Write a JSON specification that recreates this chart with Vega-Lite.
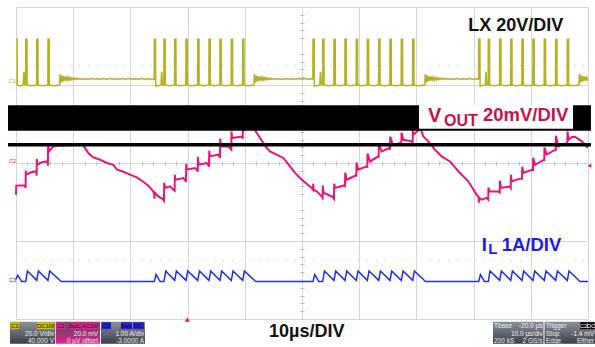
{
"$schema": "https://vega.github.io/schema/vega-lite/v6.json",
"width": 572, "height": 312,
"autosize": {"type": "none"},
"padding": {"left": 16, "top": 7, "right": 7, "bottom": 28},
"background": "#ffffff",
"config": {"view": {"stroke": null}, "axis": {"labels": false, "ticks": false, "domain": false, "grid": false, "gridColor": "#d6d6d6", "tickColor": "#bdbdbd"}},
"datasets": {
"lx": [
{"t":0,"v":23.5},{"t":0.2,"v":23.5},{"t":0.22,"v":0},{"t":0.7,"v":-0.5},{"t":1.25,"v":0},{"t":1.38,"v":6.6},{"t":1.5,"v":1},{"t":1.6,"v":0},
{"t":1.68,"v":0},{"t":1.7,"v":23.5},{"t":1.92,"v":23.5},{"t":1.94,"v":0},{"t":2.8,"v":-0.4},
{"t":3.6,"v":0},{"t":3.62,"v":23.5},{"t":3.84,"v":23.5},{"t":3.86,"v":0},{"t":4.7,"v":-0.4},
{"t":5.57,"v":0},{"t":5.59,"v":23.5},{"t":5.81,"v":23.5},{"t":5.83,"v":0},{"t":6.7,"v":-0.4},{"t":7.62,"v":0},
{"t":7.69,"v":5.6},{"t":7.84,"v":1.2},{"t":7.99,"v":5.0},{"t":8.14,"v":1.7},{"t":8.29,"v":4.6},{"t":8.44,"v":2.1},{"t":8.59,"v":4.3},{"t":8.74,"v":2.3},{"t":8.89,"v":4.0},{"t":9.04,"v":2.5},{"t":9.19,"v":3.8},{"t":9.34,"v":2.6},{"t":9.49,"v":3.7},{"t":9.64,"v":2.7},{"t":9.79,"v":3.6},{"t":9.94,"v":2.8},{"t":10.09,"v":3.5},{"t":10.24,"v":2.9},{"t":10.39,"v":3.4},{"t":10.54,"v":2.9},{"t":10.69,"v":3.4},{"t":10.84,"v":3.0},{"t":11.04,"v":3.3},{"t":11.24,"v":2.9},{"t":11.44,"v":3.3},{"t":11.64,"v":3.0},{"t":11.94,"v":3.3},{"t":12.24,"v":3.0},
{"t":12.7,"v":2.9},{"t":13.2,"v":3.3},{"t":13.7,"v":2.9},{"t":14.2,"v":3.2},{"t":14.8,"v":2.9},{"t":15.3,"v":3.3},{"t":15.9,"v":3.0},{"t":16.4,"v":3.3},{"t":17.0,"v":2.9},{"t":17.5,"v":3.2},{"t":18.1,"v":2.9},{"t":18.7,"v":3.3},{"t":19.2,"v":3.0},{"t":19.8,"v":3.3},{"t":20.3,"v":2.9},{"t":20.9,"v":3.2},{"t":21.4,"v":3.0},{"t":22.0,"v":3.3},{"t":22.5,"v":2.9},{"t":23.1,"v":3.2},{"t":23.6,"v":3.0},{"t":24.16,"v":3.1},
{"t":24.18,"v":23.5},{"t":24.4,"v":23.5},{"t":24.42,"v":-0.6},{"t":24.9,"v":-0.3},{"t":25.35,"v":0},{"t":25.47,"v":6.8},{"t":25.58,"v":1.0},{"t":25.68,"v":0},
{"t":25.85,"v":0},{"t":25.87,"v":23.5},{"t":26.09,"v":23.5},{"t":26.11,"v":0},{"t":26.8,"v":-0.4},
{"t":27.72,"v":0},{"t":27.74,"v":23.5},{"t":27.96,"v":23.5},{"t":27.98,"v":0},{"t":28.7,"v":-0.4},
{"t":29.7,"v":0},{"t":29.72,"v":23.5},{"t":29.94,"v":23.5},{"t":29.96,"v":0},{"t":30.7,"v":-0.4},
{"t":31.75,"v":0},{"t":31.77,"v":23.5},{"t":31.99,"v":23.5},{"t":32.01,"v":0},{"t":32.7,"v":-0.4},
{"t":33.72,"v":0},{"t":33.74,"v":23.5},{"t":33.96,"v":23.5},{"t":33.98,"v":0},{"t":34.7,"v":-0.4},
{"t":35.64,"v":0},{"t":35.66,"v":23.5},{"t":35.88,"v":23.5},{"t":35.9,"v":0},{"t":36.6,"v":-0.4},
{"t":37.62,"v":0},{"t":37.64,"v":23.5},{"t":37.86,"v":23.5},{"t":37.88,"v":0},{"t":38.6,"v":-0.4},
{"t":39.61,"v":0},{"t":39.63,"v":23.5},{"t":39.85,"v":23.5},{"t":39.87,"v":0},{"t":40.6,"v":-0.4},{"t":41.59,"v":0},
{"t":41.66,"v":5.6},{"t":41.81,"v":1.2},{"t":41.96,"v":5.0},{"t":42.11,"v":1.7},{"t":42.26,"v":4.6},{"t":42.41,"v":2.1},{"t":42.56,"v":4.3},{"t":42.71,"v":2.3},{"t":42.86,"v":4.0},{"t":43.01,"v":2.5},{"t":43.16,"v":3.8},{"t":43.31,"v":2.6},{"t":43.46,"v":3.7},{"t":43.61,"v":2.7},{"t":43.76,"v":3.6},{"t":43.91,"v":2.8},{"t":44.06,"v":3.5},{"t":44.21,"v":2.9},{"t":44.36,"v":3.4},{"t":44.51,"v":2.9},{"t":44.66,"v":3.4},{"t":44.81,"v":3.0},{"t":45.01,"v":3.3},{"t":45.21,"v":2.9},{"t":45.41,"v":3.3},{"t":45.61,"v":3.0},{"t":45.91,"v":3.3},{"t":46.21,"v":3.0},
{"t":46.7,"v":2.9},{"t":47.2,"v":3.3},{"t":47.8,"v":2.9},{"t":48.3,"v":3.2},{"t":48.9,"v":2.9},{"t":49.4,"v":3.3},{"t":50.0,"v":3.0},{"t":50.5,"v":3.3},{"t":51.0,"v":2.9},{"t":51.5,"v":3.2},{"t":51.9,"v":3.1},
{"t":51.92,"v":23.5},{"t":52.14,"v":23.5},{"t":52.16,"v":-0.6},{"t":52.7,"v":-0.3},{"t":53.11,"v":0},{"t":53.23,"v":6.8},{"t":53.34,"v":1.0},{"t":53.44,"v":0},
{"t":53.6,"v":0},{"t":53.62,"v":23.5},{"t":53.84,"v":23.5},{"t":53.86,"v":0},{"t":54.6,"v":-0.4},
{"t":55.57,"v":0},{"t":55.59,"v":23.5},{"t":55.81,"v":23.5},{"t":55.83,"v":0},{"t":56.5,"v":-0.4},
{"t":57.5,"v":0},{"t":57.52,"v":23.5},{"t":57.74,"v":23.5},{"t":57.76,"v":0},{"t":58.5,"v":-0.4},
{"t":59.47,"v":0},{"t":59.49,"v":23.5},{"t":59.71,"v":23.5},{"t":59.73,"v":0},{"t":60.4,"v":-0.4},
{"t":61.4,"v":0},{"t":61.42,"v":23.5},{"t":61.64,"v":23.5},{"t":61.66,"v":0},{"t":62.4,"v":-0.4},
{"t":63.39,"v":0},{"t":63.41,"v":23.5},{"t":63.63,"v":23.5},{"t":63.65,"v":0},{"t":64.4,"v":-0.4},
{"t":65.36,"v":0},{"t":65.38,"v":23.5},{"t":65.6,"v":23.5},{"t":65.62,"v":0},{"t":66.4,"v":-0.4},
{"t":67.34,"v":0},{"t":67.36,"v":23.5},{"t":67.58,"v":23.5},{"t":67.6,"v":0},{"t":68.4,"v":-0.4},
{"t":69.33,"v":0},{"t":69.35,"v":23.5},{"t":69.57,"v":23.5},{"t":69.59,"v":0},{"t":70.4,"v":-0.4},{"t":71.48,"v":0},
{"t":71.55,"v":5.6},{"t":71.7,"v":1.2},{"t":71.85,"v":5.0},{"t":72.0,"v":1.7},{"t":72.15,"v":4.6},{"t":72.3,"v":2.1},{"t":72.45,"v":4.3},{"t":72.6,"v":2.3},{"t":72.75,"v":4.0},{"t":72.9,"v":2.5},{"t":73.05,"v":3.8},{"t":73.2,"v":2.6},{"t":73.35,"v":3.7},{"t":73.5,"v":2.7},{"t":73.65,"v":3.6},{"t":73.8,"v":2.8},{"t":73.95,"v":3.5},{"t":74.1,"v":2.9},{"t":74.25,"v":3.4},{"t":74.4,"v":2.9},{"t":74.55,"v":3.4},{"t":74.7,"v":3.0},{"t":74.9,"v":3.3},{"t":75.1,"v":2.9},{"t":75.3,"v":3.3},{"t":75.5,"v":3.0},{"t":75.8,"v":3.3},{"t":76.1,"v":3.0},
{"t":76.6,"v":2.9},{"t":77.1,"v":3.3},{"t":77.7,"v":2.9},{"t":78.2,"v":3.2},{"t":78.8,"v":2.9},{"t":79.3,"v":3.3},{"t":79.9,"v":3.0},{"t":80.4,"v":3.2},{"t":80.87,"v":3.1},
{"t":80.89,"v":23.5},{"t":81.11,"v":23.5},{"t":81.13,"v":-0.6},{"t":81.6,"v":-0.3},{"t":82.05,"v":0},{"t":82.17,"v":6.8},{"t":82.28,"v":1.0},{"t":82.38,"v":0},
{"t":82.55,"v":0},{"t":82.57,"v":23.5},{"t":82.79,"v":23.5},{"t":82.81,"v":0},{"t":83.5,"v":-0.4},
{"t":84.54,"v":0},{"t":84.56,"v":23.5},{"t":84.78,"v":23.5},{"t":84.8,"v":0},{"t":85.5,"v":-0.4},
{"t":86.47,"v":0},{"t":86.49,"v":23.5},{"t":86.71,"v":23.5},{"t":86.73,"v":0},{"t":87.5,"v":-0.4},
{"t":88.44,"v":0},{"t":88.46,"v":23.5},{"t":88.68,"v":23.5},{"t":88.7,"v":0},{"t":89.4,"v":-0.4},
{"t":90.36,"v":0},{"t":90.38,"v":23.5},{"t":90.6,"v":23.5},{"t":90.62,"v":0},{"t":91.4,"v":-0.4},
{"t":92.34,"v":0},{"t":92.36,"v":23.5},{"t":92.58,"v":23.5},{"t":92.6,"v":0},{"t":93.4,"v":-0.4},
{"t":94.33,"v":0},{"t":94.35,"v":23.5},{"t":94.57,"v":23.5},{"t":94.59,"v":0},{"t":95.4,"v":-0.4},
{"t":96.36,"v":0},{"t":96.38,"v":23.5},{"t":96.6,"v":23.5},{"t":96.62,"v":0},{"t":97.4,"v":-0.4},{"t":98.41,"v":0},
{"t":98.48,"v":5.6},{"t":98.63,"v":1.2},{"t":98.78,"v":5.0},{"t":98.93,"v":1.7},{"t":99.08,"v":4.6},{"t":99.23,"v":2.1},{"t":99.38,"v":4.3},{"t":99.53,"v":2.3},{"t":99.68,"v":4.0},{"t":99.83,"v":2.5},{"t":100,"v":3.8}
],
"vout": [
{"t":0.0,"v":-16.3},{"t":0.05,"v":-11.6},{"t":1.49,"v":-11.4},{"t":1.68,"v":-12.7},{"t":1.71,"v":-3.9},{"t":1.78,"v":-6.0},{"t":2.45,"v":-5.0},{"t":3.23,"v":-4.3},{"t":3.57,"v":-5.0},{"t":3.6,"v":-6.5},{"t":3.64,"v":2.2},{"t":3.72,"v":-0.9},{"t":4.55,"v":0.4},{"t":5.24,"v":0.8},{"t":5.54,"v":0.2},{"t":5.58,"v":-1.4},{"t":5.61,"v":8.9},{"t":5.77,"v":5.9},{"t":6.52,"v":8.5},{"t":7.4,"v":9.0},{"t":8.57,"v":9.0},{"t":9.74,"v":9.1},{"t":10.89,"v":9.7},{"t":11.77,"v":9.0},{"t":12.64,"v":5.1},{"t":13.46,"v":3.0},{"t":14.69,"v":1.7},{"t":15.86,"v":0.0},{"t":17.01,"v":-0.9},{"t":17.66,"v":-3.4},{"t":18.76,"v":-4.5},{"t":19.93,"v":-6.0},{"t":21.1,"v":-7.4},{"t":22.26,"v":-9.6},{"t":23.13,"v":-11.6},{"t":23.78,"v":-13.7},{"t":24.16,"v":-15.7},{"t":24.2,"v":-18.3},{"t":24.27,"v":-15.2},{"t":24.88,"v":-17.1},{"t":25.44,"v":-18.1},{"t":25.75,"v":-18.8},{"t":25.87,"v":-19.3},{"t":25.91,"v":-10.1},{"t":26.05,"v":-12.8},{"t":26.92,"v":-12.0},{"t":27.5,"v":-13.7},{"t":27.73,"v":-14.2},{"t":27.76,"v":-6.0},{"t":27.85,"v":-8.6},{"t":29.25,"v":-7.7},{"t":29.63,"v":-9.1},{"t":29.72,"v":-9.6},{"t":29.76,"v":-0.4},{"t":29.86,"v":-3.4},{"t":31.29,"v":-2.6},{"t":31.7,"v":-3.9},{"t":31.77,"v":-4.5},{"t":31.8,"v":3.2},{"t":31.91,"v":-0.9},{"t":33.34,"v":0.0},{"t":33.69,"v":-1.4},{"t":33.74,"v":-1.9},{"t":33.78,"v":6.3},{"t":33.88,"v":3.4},{"t":35.37,"v":4.3},{"t":35.61,"v":3.0},{"t":35.66,"v":2.7},{"t":35.7,"v":12.5},{"t":35.84,"v":8.5},{"t":37.12,"v":8.5},{"t":37.55,"v":7.1},{"t":37.64,"v":6.8},{"t":37.67,"v":16.1},{"t":37.81,"v":12.8},{"t":39.46,"v":13.6},{"t":39.58,"v":13.0},{"t":39.63,"v":12.5},{"t":39.67,"v":20.2},{"t":39.77,"v":16.2},{"t":40.03,"v":18.4},{"t":40.91,"v":20.2},{"t":41.78,"v":16.8},{"t":42.66,"v":12.8},{"t":43.83,"v":7.7},{"t":44.41,"v":5.9},{"t":45.58,"v":4.3},{"t":46.73,"v":2.6},{"t":47.9,"v":-1.7},{"t":48.78,"v":-5.1},{"t":49.95,"v":-8.6},{"t":50.82,"v":-10.6},{"t":51.7,"v":-12.8},{"t":51.92,"v":-13.7},{"t":51.96,"v":-10.6},{"t":52.03,"v":-13.7},{"t":52.62,"v":-14.7},{"t":53.44,"v":-17.1},{"t":53.6,"v":-17.8},{"t":53.64,"v":-11.6},{"t":53.76,"v":-15.4},{"t":54.55,"v":-16.3},{"t":55.42,"v":-17.5},{"t":55.59,"v":-18.3},{"t":55.63,"v":-10.6},{"t":55.77,"v":-12.8},{"t":57.43,"v":-11.4},{"t":57.52,"v":-12.3},{"t":57.55,"v":-5.0},{"t":57.81,"v":-8.6},{"t":59.44,"v":-6.3},{"t":59.49,"v":-7.0},{"t":59.53,"v":0.2},{"t":59.84,"v":-3.4},{"t":61.36,"v":-1.7},{"t":61.42,"v":-2.4},{"t":61.45,"v":4.8},{"t":61.89,"v":0.8},{"t":63.34,"v":3.4},{"t":63.41,"v":2.7},{"t":63.44,"v":9.9},{"t":63.93,"v":5.9},{"t":65.33,"v":7.7},{"t":65.38,"v":6.8},{"t":65.42,"v":13.5},{"t":65.86,"v":9.4},{"t":67.31,"v":10.3},{"t":67.36,"v":9.4},{"t":67.4,"v":15.5},{"t":67.71,"v":11.9},{"t":69.18,"v":11.1},{"t":69.35,"v":10.4},{"t":69.39,"v":18.1},{"t":69.46,"v":14.5},{"t":70.33,"v":16.7},{"t":70.72,"v":17.8},{"t":71.21,"v":13.6},{"t":72.08,"v":11.1},{"t":73.25,"v":6.8},{"t":74.42,"v":3.4},{"t":75.87,"v":0.8},{"t":77.33,"v":-4.3},{"t":79.07,"v":-9.4},{"t":80.54,"v":-16.3},{"t":80.87,"v":-17.3},{"t":80.91,"v":-20.4},{"t":80.99,"v":-17.8},{"t":81.4,"v":-18.8},{"t":82.28,"v":-17.9},{"t":82.57,"v":-18.8},{"t":82.6,"v":-12.6},{"t":82.78,"v":-14.5},{"t":84.27,"v":-14.6},{"t":84.56,"v":-15.2},{"t":84.6,"v":-9.0},{"t":84.76,"v":-12.8},{"t":86.36,"v":-12.0},{"t":86.49,"v":-12.7},{"t":86.52,"v":-6.0},{"t":86.66,"v":-9.4},{"t":88.41,"v":-7.7},{"t":88.46,"v":-8.6},{"t":88.5,"v":-1.9},{"t":88.69,"v":-5.1},{"t":90.33,"v":-3.4},{"t":90.38,"v":-4.2},{"t":90.42,"v":2.7},{"t":90.73,"v":-0.9},{"t":92.31,"v":1.7},{"t":92.36,"v":0.9},{"t":92.39,"v":7.9},{"t":92.78,"v":4.3},{"t":94.3,"v":6.8},{"t":94.35,"v":6.1},{"t":94.39,"v":14.0},{"t":94.81,"v":8.5},{"t":96.33,"v":10.3},{"t":96.38,"v":9.4},{"t":96.42,"v":16.1},{"t":96.59,"v":11.9},{"t":97.2,"v":13.3},{"t":97.73,"v":13.5},{"t":98.9,"v":11.1},{"t":99.77,"v":8.5},{"t":100.0,"v":7.8}
],
"il": [
{"t":0,"v":0.02},{"t":0.3,"v":0.12},{"t":1.0,"v":-0.04},{"t":1.7,"v":-0.04},{"t":2.0,"v":0.23},{"t":3.62,"v":-0.01},{"t":3.92,"v":0.23},{"t":5.59,"v":-0.01},{"t":5.89,"v":0.23},{"t":7.9,"v":-0.04},
{"t":24.18,"v":-0.04},{"t":24.48,"v":0.14},{"t":25.2,"v":-0.04},{"t":25.87,"v":-0.04},{"t":26.17,"v":0.23},{"t":27.74,"v":-0.01},{"t":28.04,"v":0.23},{"t":29.72,"v":-0.01},{"t":30.02,"v":0.23},{"t":31.77,"v":-0.01},{"t":32.07,"v":0.23},{"t":33.74,"v":-0.01},{"t":34.04,"v":0.23},{"t":35.66,"v":-0.01},{"t":35.96,"v":0.23},{"t":37.64,"v":-0.01},{"t":37.94,"v":0.23},{"t":39.63,"v":-0.01},{"t":39.93,"v":0.23},{"t":41.9,"v":-0.04},
{"t":51.92,"v":-0.04},{"t":52.22,"v":0.14},{"t":52.95,"v":-0.04},{"t":53.62,"v":-0.04},{"t":53.92,"v":0.23},{"t":55.59,"v":-0.01},{"t":55.89,"v":0.23},{"t":57.52,"v":-0.01},{"t":57.82,"v":0.23},{"t":59.49,"v":-0.01},{"t":59.79,"v":0.23},{"t":61.42,"v":-0.01},{"t":61.72,"v":0.23},{"t":63.41,"v":-0.01},{"t":63.71,"v":0.23},{"t":65.38,"v":-0.01},{"t":65.68,"v":0.23},{"t":67.36,"v":-0.01},{"t":67.66,"v":0.23},{"t":69.35,"v":-0.01},{"t":69.65,"v":0.23},{"t":71.6,"v":-0.04},
{"t":80.89,"v":-0.04},{"t":81.19,"v":0.14},{"t":81.9,"v":-0.04},{"t":82.57,"v":-0.04},{"t":82.87,"v":0.23},{"t":84.56,"v":-0.01},{"t":84.86,"v":0.23},{"t":86.49,"v":-0.01},{"t":86.79,"v":0.23},{"t":88.46,"v":-0.01},{"t":88.76,"v":0.23},{"t":90.38,"v":-0.01},{"t":90.68,"v":0.23},{"t":92.36,"v":-0.01},{"t":92.66,"v":0.23},{"t":94.35,"v":-0.01},{"t":94.65,"v":0.23},{"t":96.38,"v":-0.01},{"t":96.68,"v":0.23},{"t":98.6,"v":-0.04},{"t":100,"v":-0.04}
]
},
"resolve": {"scale": {"y": "independent"}, "axis": {"x": "independent"}},
"layer": [
{
"data": {"name": "lx"},
"mark": {"type": "line", "color": "#b8b024", "strokeWidth": 1.5},
"encoding": {
"x": {"field": "t", "type": "quantitative", "scale": {"domain": [0, 100], "nice": false}, "axis": {"title": null, "orient": "bottom", "offset": -158, "ticks": true, "tickSize": 4, "values": [2,4,6,8,12,14,16,18,22,24,26,28,32,34,36,38,42,44,46,48,52,54,56,58,62,64,66,68,72,74,76,78,82,84,86,88,92,94,96,98]}},
"y": {"field": "v", "type": "quantitative", "scale": {"domain": [-120, 40], "nice": false}, "axis": {"title": null, "orient": "left", "offset": -288, "ticks": true, "tickSize": 4, "values": [-116,-112,-108,-104,-96,-92,-88,-84,-76,-72,-68,-64,-56,-52,-48,-44,-36,-32,-28,-24,-16,-12,-8,-4,4,8,12,16,24,28,32,36]}}
}
},
{
"data": {"name": "il"},
"mark": {"type": "line", "color": "#2230e0", "strokeWidth": 1.5},
"encoding": {
"x": {"field": "t", "type": "quantitative", "scale": {"domain": [0, 100], "nice": false}, "axis": null},
"y": {"field": "v", "type": "quantitative", "scale": {"domain": [-1, 7], "nice": false}, "axis": null}
}
},
{
"data": {"values": [{}]},
"layer": [
{"mark": {"type": "rule", "color": "#c8c8c8", "strokeDash": [1, 8]}, "encoding": {"x": {"datum": 0, "type": "quantitative", "title": null}, "x2": {"datum": 100}, "y": {"datum": 50, "type": "quantitative", "title": null}}},
{"mark": {"type": "rule", "color": "#c8c8c8", "strokeDash": [1, 8]}, "encoding": {"x": {"datum": 0, "type": "quantitative", "title": null}, "x2": {"datum": 100}, "y": {"datum": -50, "type": "quantitative", "title": null}}},
{
"data": {"name": "vout"},
"mark": {"type": "line", "color": "#e8147c", "strokeWidth": 2},
"encoding": {
"x": {"field": "t", "type": "quantitative", "scale": {"domain": [0, 100], "nice": false}, "axis": {"title": null, "grid": true, "values": [0,10,20,30,40,50,60,70,80,90,100]}},
"y": {"field": "v", "type": "quantitative", "scale": {"domain": [-80, 80], "nice": false}, "axis": {"title": null, "grid": true, "values": [-80,-60,-40,-20,0,20,40,60,80]}}
}
},
{"mark": {"type": "rect", "color": "#000000"}, "encoding": {"x": {"datum": -1.4, "type": "quantitative", "title": null}, "x2": {"datum": 100.52}, "y": {"datum": 29.6, "type": "quantitative", "title": null}, "y2": {"datum": 16.6}}},
{"mark": {"type": "rule", "color": "#000000", "strokeWidth": 3.5}, "encoding": {"x": {"datum": -1.4, "type": "quantitative", "title": null}, "x2": {"datum": 100.52}, "y": {"datum": 9.38, "type": "quantitative", "title": null}}},
{"mark": {"type": "rect", "color": "#ffffff"}, "encoding": {"x": {"datum": 70.45, "type": "quantitative", "title": null}, "x2": {"datum": 97.38}, "y": {"datum": 29.9, "type": "quantitative", "title": null}, "y2": {"datum": 17.6}}},
{"mark": {"type": "text", "text": "LX 20V/DIV", "font": "Liberation Sans", "fontWeight": "bold", "fontSize": 18, "align": "left", "baseline": "alphabetic", "color": "#111111"}, "encoding": {"x": {"datum": 79.07, "type": "quantitative", "title": null}, "y": {"datum": 67.49, "type": "quantitative", "title": null}}},
{"mark": {"type": "text", "text": "V", "font": "Liberation Sans", "fontWeight": "bold", "fontSize": 20, "align": "left", "baseline": "alphabetic", "color": "#c8124c"}, "encoding": {"x": {"datum": 72.03, "type": "quantitative", "title": null}, "y": {"datum": 20.82, "type": "quantitative", "title": null}}},
{"mark": {"type": "text", "text": "OUT", "font": "Liberation Sans", "fontWeight": "bold", "fontSize": 16, "align": "left", "baseline": "alphabetic", "color": "#c8124c"}, "encoding": {"x": {"datum": 74.83, "type": "quantitative", "title": null}, "y": {"datum": 18.77, "type": "quantitative", "title": null}}},
{"mark": {"type": "text", "text": "20mV/DIV", "font": "Liberation Sans", "fontWeight": "bold", "fontSize": 18.5, "align": "left", "baseline": "alphabetic", "color": "#c8124c"}, "encoding": {"x": {"datum": 81.64, "type": "quantitative", "title": null}, "y": {"datum": 21.33, "type": "quantitative", "title": null}}},
{"mark": {"type": "text", "text": "I", "font": "Liberation Sans", "fontWeight": "bold", "fontSize": 18.5, "align": "left", "baseline": "alphabetic", "color": "#1c1ce6"}, "encoding": {"x": {"datum": 81.41, "type": "quantitative", "title": null}, "y": {"datum": -45.33, "type": "quantitative", "title": null}}},
{"mark": {"type": "text", "text": "L", "font": "Liberation Sans", "fontWeight": "bold", "fontSize": 15, "align": "left", "baseline": "alphabetic", "color": "#1c1ce6"}, "encoding": {"x": {"datum": 82.57, "type": "quantitative", "title": null}, "y": {"datum": -46.67, "type": "quantitative", "title": null}}},
{"mark": {"type": "text", "text": "1A/DIV", "font": "Liberation Sans", "fontWeight": "bold", "fontSize": 18.5, "align": "left", "baseline": "alphabetic", "color": "#1c1ce6"}, "encoding": {"x": {"datum": 84.91, "type": "quantitative", "title": null}, "y": {"datum": -45.33, "type": "quantitative", "title": null}}},
{"mark": {"type": "text", "text": "10µs/DIV", "font": "Liberation Sans", "fontWeight": "bold", "fontSize": 18, "align": "center", "baseline": "alphabetic", "color": "#111111"}, "encoding": {"x": {"datum": 50.82, "type": "quantitative", "title": null}, "y": {"datum": -89.23, "type": "quantitative", "title": null}}},
{"mark": {"type": "rect", "fill": {"gradient": "linear", "x1": 0, "y1": 0, "x2": 0, "y2": 1, "stops": [{"offset": 0, "color": "#8d919b"}, {"offset": 1, "color": "#3b3f49"}]}}, "encoding": {"x": {"datum": -1.049, "type": "quantitative", "title": null}, "x2": {"datum": 6.818}, "y": {"datum": -81.38, "type": "quantitative", "title": null}, "y2": {"datum": -92.66}}},
{"mark": {"type": "rect", "fill": {"gradient": "linear", "x1": 0, "y1": 0, "x2": 0, "y2": 1, "stops": [{"offset": 0, "color": "#5a5560"}, {"offset": 0.45, "color": "#8a3a72"}, {"offset": 1, "color": "#e8208c"}]}}, "encoding": {"x": {"datum": 6.941, "type": "quantitative", "title": null}, "x2": {"datum": 14.685}, "y": {"datum": -81.38, "type": "quantitative", "title": null}, "y2": {"datum": -92.66}}},
{"mark": {"type": "rect", "fill": {"gradient": "linear", "x1": 0, "y1": 0, "x2": 0, "y2": 1, "stops": [{"offset": 0, "color": "#8d919b"}, {"offset": 1, "color": "#3b3f49"}]}}, "encoding": {"x": {"datum": 14.86, "type": "quantitative", "title": null}, "x2": {"datum": 22.552}, "y": {"datum": -81.38, "type": "quantitative", "title": null}, "y2": {"datum": -92.66}}},
{"mark": {"type": "rect", "fill": {"gradient": "linear", "x1": 0, "y1": 0, "x2": 0, "y2": 1, "stops": [{"offset": 0, "color": "#8d919b"}, {"offset": 1, "color": "#3b3f49"}]}}, "encoding": {"x": {"datum": 83.392, "type": "quantitative", "title": null}, "x2": {"datum": 92.22}, "y": {"datum": -81.38, "type": "quantitative", "title": null}, "y2": {"datum": -92.66}}},
{"mark": {"type": "rect", "fill": {"gradient": "linear", "x1": 0, "y1": 0, "x2": 0, "y2": 1, "stops": [{"offset": 0, "color": "#8d919b"}, {"offset": 1, "color": "#3b3f49"}]}}, "encoding": {"x": {"datum": 92.395, "type": "quantitative", "title": null}, "x2": {"datum": 101.224}, "y": {"datum": -81.38, "type": "quantitative", "title": null}, "y2": {"datum": -92.66}}},
{"mark": {"type": "rect", "color": "#c8c000"}, "encoding": {"x": {"datum": -0.962, "type": "quantitative", "title": null}, "x2": {"datum": 0.524}, "y": {"datum": -81.64, "type": "quantitative", "title": null}, "y2": {"datum": -85.23}}},
{"mark": {"type": "rect", "color": "#c8c000"}, "encoding": {"x": {"datum": 3.671, "type": "quantitative", "title": null}, "x2": {"datum": 6.643}, "y": {"datum": -81.64, "type": "quantitative", "title": null}, "y2": {"datum": -85.23}}},
{"mark": {"type": "rect", "color": "#e0208a"}, "encoding": {"x": {"datum": 6.993, "type": "quantitative", "title": null}, "x2": {"datum": 8.566}, "y": {"datum": -81.64, "type": "quantitative", "title": null}, "y2": {"datum": -85.23}}},
{"mark": {"type": "rect", "color": "#e0208a"}, "encoding": {"x": {"datum": 9.266, "type": "quantitative", "title": null}, "x2": {"datum": 11.189}, "y": {"datum": -81.64, "type": "quantitative", "title": null}, "y2": {"datum": -85.23}}},
{"mark": {"type": "rect", "color": "#e0208a"}, "encoding": {"x": {"datum": 11.364, "type": "quantitative", "title": null}, "x2": {"datum": 14.51}, "y": {"datum": -81.64, "type": "quantitative", "title": null}, "y2": {"datum": -85.23}}},
{"mark": {"type": "rect", "color": "#2020e0"}, "encoding": {"x": {"datum": 14.948, "type": "quantitative", "title": null}, "x2": {"datum": 16.608}, "y": {"datum": -81.64, "type": "quantitative", "title": null}, "y2": {"datum": -85.23}}},
{"mark": {"type": "rect", "color": "#2020e0"}, "encoding": {"x": {"datum": 18.357, "type": "quantitative", "title": null}, "x2": {"datum": 20.28}, "y": {"datum": -81.64, "type": "quantitative", "title": null}, "y2": {"datum": -85.23}}},
{"mark": {"type": "rect", "color": "#2020e0"}, "encoding": {"x": {"datum": 20.455, "type": "quantitative", "title": null}, "x2": {"datum": 22.378}, "y": {"datum": -81.64, "type": "quantitative", "title": null}, "y2": {"datum": -85.23}}},
{"mark": {"type": "rect", "color": "#000000"}, "encoding": {"x": {"datum": 98.601, "type": "quantitative", "title": null}, "x2": {"datum": 99.825}, "y": {"datum": -81.64, "type": "quantitative", "title": null}, "y2": {"datum": -85.23}}},
{"mark": {"type": "rect", "color": "#000000"}, "encoding": {"x": {"datum": 99.913, "type": "quantitative", "title": null}, "x2": {"datum": 101.136}, "y": {"datum": -81.64, "type": "quantitative", "title": null}, "y2": {"datum": -85.23}}},
{"mark": {"type": "text", "text": "C1", "font": "Liberation Sans", "fontSize": 6, "align": "center", "baseline": "alphabetic", "color": "#202020"}, "encoding": {"x": {"datum": -0.219, "type": "quantitative", "title": null}, "y": {"datum": -84.6, "type": "quantitative", "title": null}}},
{"mark": {"type": "text", "text": "DC1M", "font": "Liberation Sans", "fontSize": 6, "align": "center", "baseline": "alphabetic", "color": "#202020"}, "encoding": {"x": {"datum": 5.157, "type": "quantitative", "title": null}, "y": {"datum": -84.6, "type": "quantitative", "title": null}}},
{"mark": {"type": "text", "text": "C2", "font": "Liberation Sans", "fontSize": 6, "align": "center", "baseline": "alphabetic", "color": "#202020"}, "encoding": {"x": {"datum": 7.78, "type": "quantitative", "title": null}, "y": {"datum": -84.6, "type": "quantitative", "title": null}}},
{"mark": {"type": "text", "text": "BwL", "font": "Liberation Sans", "fontSize": 6, "align": "center", "baseline": "alphabetic", "color": "#202020"}, "encoding": {"x": {"datum": 10.227, "type": "quantitative", "title": null}, "y": {"datum": -84.6, "type": "quantitative", "title": null}}},
{"mark": {"type": "text", "text": "AC1M", "font": "Liberation Sans", "fontSize": 6, "align": "center", "baseline": "alphabetic", "color": "#202020"}, "encoding": {"x": {"datum": 12.937, "type": "quantitative", "title": null}, "y": {"datum": -84.6, "type": "quantitative", "title": null}}},
{"mark": {"type": "text", "text": "C3", "font": "Liberation Sans", "fontSize": 6, "align": "center", "baseline": "alphabetic", "color": "#101010"}, "encoding": {"x": {"datum": 15.778, "type": "quantitative", "title": null}, "y": {"datum": -84.6, "type": "quantitative", "title": null}}},
{"mark": {"type": "text", "text": "BwL", "font": "Liberation Sans", "fontSize": 6, "align": "center", "baseline": "alphabetic", "color": "#101010"}, "encoding": {"x": {"datum": 19.318, "type": "quantitative", "title": null}, "y": {"datum": -84.6, "type": "quantitative", "title": null}}},
{"mark": {"type": "text", "text": "DC", "font": "Liberation Sans", "fontSize": 6, "align": "center", "baseline": "alphabetic", "color": "#101010"}, "encoding": {"x": {"datum": 21.416, "type": "quantitative", "title": null}, "y": {"datum": -84.6, "type": "quantitative", "title": null}}},
{"mark": {"type": "text", "text": "C2", "font": "Liberation Sans", "fontSize": 6, "align": "center", "baseline": "alphabetic", "color": "#ffffff"}, "encoding": {"x": {"datum": 99.213, "type": "quantitative", "title": null}, "y": {"datum": -84.6, "type": "quantitative", "title": null}}},
{"mark": {"type": "text", "text": "DC", "font": "Liberation Sans", "fontSize": 6, "align": "center", "baseline": "alphabetic", "color": "#ffffff"}, "encoding": {"x": {"datum": 100.524, "type": "quantitative", "title": null}, "y": {"datum": -84.6, "type": "quantitative", "title": null}}},
{"mark": {"type": "text", "text": "20.0 V/div", "font": "Liberation Sans", "fontSize": 6.5, "align": "right", "baseline": "alphabetic", "color": "#f0f0f0"}, "encoding": {"x": {"datum": 6.643, "type": "quantitative", "title": null}, "y": {"datum": -88.56, "type": "quantitative", "title": null}}},
{"mark": {"type": "text", "text": "40.000 V", "font": "Liberation Sans", "fontSize": 6.5, "align": "right", "baseline": "alphabetic", "color": "#f0f0f0"}, "encoding": {"x": {"datum": 6.643, "type": "quantitative", "title": null}, "y": {"datum": -92.41, "type": "quantitative", "title": null}}},
{"mark": {"type": "text", "text": "20.0 mV", "font": "Liberation Sans", "fontSize": 6.5, "align": "right", "baseline": "alphabetic", "color": "#f0f0f0"}, "encoding": {"x": {"datum": 14.336, "type": "quantitative", "title": null}, "y": {"datum": -88.56, "type": "quantitative", "title": null}}},
{"mark": {"type": "text", "text": "0 µV offset", "font": "Liberation Sans", "fontSize": 6.5, "align": "right", "baseline": "alphabetic", "color": "#f0f0f0"}, "encoding": {"x": {"datum": 14.336, "type": "quantitative", "title": null}, "y": {"datum": -92.41, "type": "quantitative", "title": null}}},
{"mark": {"type": "text", "text": "1.00 A/div", "font": "Liberation Sans", "fontSize": 6.5, "align": "right", "baseline": "alphabetic", "color": "#f0f0f0"}, "encoding": {"x": {"datum": 22.378, "type": "quantitative", "title": null}, "y": {"datum": -88.56, "type": "quantitative", "title": null}}},
{"mark": {"type": "text", "text": "-3.0000 A", "font": "Liberation Sans", "fontSize": 6.5, "align": "right", "baseline": "alphabetic", "color": "#f0f0f0"}, "encoding": {"x": {"datum": 22.378, "type": "quantitative", "title": null}, "y": {"datum": -92.41, "type": "quantitative", "title": null}}},
{"mark": {"type": "text", "text": "Tbase", "font": "Liberation Sans", "fontSize": 6.5, "align": "left", "baseline": "alphabetic", "color": "#f0f0f0"}, "encoding": {"x": {"datum": 83.566, "type": "quantitative", "title": null}, "y": {"datum": -84.71, "type": "quantitative", "title": null}}},
{"mark": {"type": "text", "text": "-20.0 µs", "font": "Liberation Sans", "fontSize": 6.5, "align": "right", "baseline": "alphabetic", "color": "#f0f0f0"}, "encoding": {"x": {"datum": 92.045, "type": "quantitative", "title": null}, "y": {"datum": -84.71, "type": "quantitative", "title": null}}},
{"mark": {"type": "text", "text": "10.0 µs/div", "font": "Liberation Sans", "fontSize": 6.5, "align": "right", "baseline": "alphabetic", "color": "#f0f0f0"}, "encoding": {"x": {"datum": 92.045, "type": "quantitative", "title": null}, "y": {"datum": -88.56, "type": "quantitative", "title": null}}},
{"mark": {"type": "text", "text": "200 kS", "font": "Liberation Sans", "fontSize": 6.5, "align": "left", "baseline": "alphabetic", "color": "#f0f0f0"}, "encoding": {"x": {"datum": 83.566, "type": "quantitative", "title": null}, "y": {"datum": -92.41, "type": "quantitative", "title": null}}},
{"mark": {"type": "text", "text": "2 GS/s", "font": "Liberation Sans", "fontSize": 6.5, "align": "right", "baseline": "alphabetic", "color": "#f0f0f0"}, "encoding": {"x": {"datum": 92.045, "type": "quantitative", "title": null}, "y": {"datum": -92.41, "type": "quantitative", "title": null}}},
{"mark": {"type": "text", "text": "Trigger", "font": "Liberation Sans", "fontSize": 6.5, "align": "left", "baseline": "alphabetic", "color": "#f0f0f0"}, "encoding": {"x": {"datum": 92.657, "type": "quantitative", "title": null}, "y": {"datum": -84.71, "type": "quantitative", "title": null}}},
{"mark": {"type": "text", "text": "Stop", "font": "Liberation Sans", "fontSize": 6.5, "align": "left", "baseline": "alphabetic", "color": "#f0f0f0"}, "encoding": {"x": {"datum": 92.657, "type": "quantitative", "title": null}, "y": {"datum": -88.56, "type": "quantitative", "title": null}}},
{"mark": {"type": "text", "text": "-1.4 mV", "font": "Liberation Sans", "fontSize": 6.5, "align": "right", "baseline": "alphabetic", "color": "#f0f0f0"}, "encoding": {"x": {"datum": 101.049, "type": "quantitative", "title": null}, "y": {"datum": -88.56, "type": "quantitative", "title": null}}},
{"mark": {"type": "text", "text": "Edge", "font": "Liberation Sans", "fontSize": 6.5, "align": "left", "baseline": "alphabetic", "color": "#f0f0f0"}, "encoding": {"x": {"datum": 92.657, "type": "quantitative", "title": null}, "y": {"datum": -92.41, "type": "quantitative", "title": null}}},
{"mark": {"type": "text", "text": "Either", "font": "Liberation Sans", "fontSize": 6.5, "align": "right", "baseline": "alphabetic", "color": "#f0f0f0"}, "encoding": {"x": {"datum": 101.049, "type": "quantitative", "title": null}, "y": {"datum": -92.41, "type": "quantitative", "title": null}}},
{"mark": {"type": "text", "text": "C1", "font": "Liberation Sans", "fontSize": 5.5, "align": "center", "baseline": "middle", "color": "#b8b024"}, "encoding": {"x": {"datum": -0.612, "type": "quantitative", "title": null}, "y": {"datum": 42.2, "type": "quantitative", "title": null}}},
{"mark": {"type": "text", "text": "C2", "font": "Liberation Sans", "fontSize": 5.5, "align": "center", "baseline": "middle", "color": "#e8147c"}, "encoding": {"x": {"datum": -0.612, "type": "quantitative", "title": null}, "y": {"datum": 1.18, "type": "quantitative", "title": null}}},
{"mark": {"type": "text", "text": "C3", "font": "Liberation Sans", "fontSize": 5.5, "align": "center", "baseline": "middle", "color": "#2230e0"}, "encoding": {"x": {"datum": -0.612, "type": "quantitative", "title": null}, "y": {"datum": -60.1, "type": "quantitative", "title": null}}},
{"mark": {"type": "point", "shape": "triangle-up", "filled": true, "size": 25, "color": "#e8147c", "opacity": 1}, "encoding": {"x": {"datum": 29.95, "type": "quantitative", "title": null}, "y": {"datum": -80.35, "type": "quantitative", "title": null}}},
{"mark": {"type": "point", "shape": "triangle-left", "filled": true, "size": 18, "color": "#e8147c", "opacity": 1}, "encoding": {"x": {"datum": 100.26, "type": "quantitative", "title": null}, "y": {"datum": -1.38, "type": "quantitative", "title": null}}}
]
}
]
}
